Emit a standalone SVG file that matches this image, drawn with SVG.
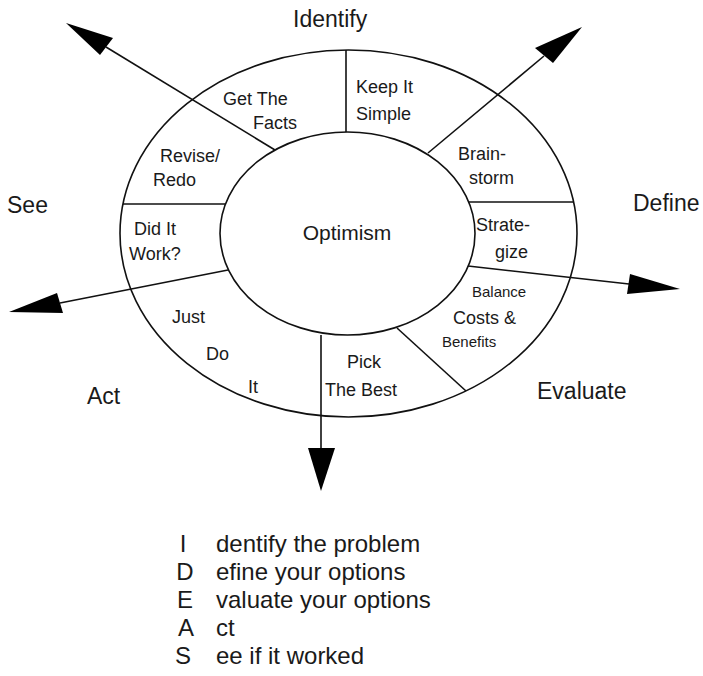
<svg xmlns="http://www.w3.org/2000/svg" width="703" height="676" viewBox="0 0 703 676">
  <style>
    text { font-family: "Liberation Sans", Arial, sans-serif; fill: #1a1a1a; }
    .ring { fill: none; stroke: #111; stroke-width: 1.6; }
    .hub { fill: #fff; stroke: #111; stroke-width: 1.6; }
    .conn { stroke: #111; stroke-width: 1.6; fill: none; }
    .head { fill: #000; stroke: none; }
    .phase { font-size: 23px; }
    .seg { font-size: 18px; }
    .seg-sm { font-size: 15px; }
    .core { font-size: 21px; }
    .legend { font-size: 24px; }
  </style>
  <rect width="703" height="676" fill="#fff"/>

  <!-- outer ring of the wheel -->
  <g id="wheel">
    <ellipse class="ring" cx="348.5" cy="233.5" rx="228.5" ry="183.5"/>
  </g>

  <!-- centre hub -->
  <g id="optimism">
    <ellipse class="hub" cx="347.5" cy="233.5" rx="127.5" ry="101.5"/>
    <text class="core" x="347" y="240" text-anchor="middle">Optimism</text>
  </g>

  <!-- dividers and outward arrows -->
  <g id="connectors">
    <line class="conn" x1="346" y1="50" x2="346" y2="132"/>
    <line class="conn" x1="468" y1="202" x2="573" y2="202"/>
    <line class="conn" x1="123" y1="204" x2="225" y2="204"/>
    <line class="conn" x1="397" y1="328" x2="466" y2="391"/>

    <line class="conn" x1="275" y1="150" x2="106" y2="47"/>
    <polygon class="head" points="66,23 113,38 100,55"/>

    <line class="conn" x1="428" y1="153" x2="544" y2="56"/>
    <polygon class="head" points="582,27 535,48 553,63"/>

    <line class="conn" x1="468" y1="266" x2="629" y2="284"/>
    <polygon class="head" points="680,289 630,274 627,294"/>

    <line class="conn" x1="321" y1="335" x2="321" y2="448"/>
    <polygon class="head" points="308,448 335,448 321,491"/>

    <line class="conn" x1="228" y1="270" x2="60" y2="303"/>
    <polygon class="head" points="9,312 57,293 63,313"/>
  </g>

  <!-- wheel segments -->
  <g id="seg-keep-it-simple">
    <text class="seg" x="356" y="93">Keep It</text>
    <text class="seg" x="356" y="120">Simple</text>
  </g>
  <g id="seg-brainstorm">
    <text class="seg" x="458" y="160">Brain-</text>
    <text class="seg" x="469" y="184">storm</text>
  </g>
  <g id="seg-strategize">
    <text class="seg" x="476" y="231">Strate-</text>
    <text class="seg" x="495" y="258">gize</text>
  </g>
  <g id="seg-balance">
    <text class="seg-sm" x="472" y="297">Balance</text>
    <text class="seg" x="453" y="324">Costs &amp;</text>
    <text class="seg-sm" x="442" y="347">Benefits</text>
  </g>
  <g id="seg-pick-the-best">
    <text class="seg" x="347" y="368">Pick</text>
    <text class="seg" x="325" y="396">The Best</text>
  </g>
  <g id="seg-just-do-it">
    <text class="seg" x="172" y="323">Just</text>
    <text class="seg" x="206" y="360">Do</text>
    <text class="seg" x="248" y="393">It</text>
  </g>
  <g id="seg-did-it-work">
    <text class="seg" x="134" y="235">Did It</text>
    <text class="seg" x="129" y="260">Work?</text>
  </g>
  <g id="seg-revise-redo">
    <text class="seg" x="160" y="162">Revise/</text>
    <text class="seg" x="153" y="186">Redo</text>
  </g>
  <g id="seg-get-the-facts">
    <text class="seg" x="223" y="105">Get The</text>
    <text class="seg" x="253" y="129">Facts</text>
  </g>

  <!-- phase names around the wheel -->
  <g id="phase-identify"><text class="phase" x="293" y="27">Identify</text></g>
  <g id="phase-define"><text class="phase" x="633" y="211">Define</text></g>
  <g id="phase-evaluate"><text class="phase" x="537" y="399">Evaluate</text></g>
  <g id="phase-act"><text class="phase" x="87" y="404">Act</text></g>
  <g id="phase-see"><text class="phase" x="7" y="213">See</text></g>

  <!-- acronym key -->
  <g id="legend">
    <text class="legend" x="183" y="552" text-anchor="middle">I</text>
    <text class="legend" x="216" y="552">dentify the problem</text>
    <text class="legend" x="185" y="580" text-anchor="middle">D</text>
    <text class="legend" x="216" y="580">efine your options</text>
    <text class="legend" x="185" y="608" text-anchor="middle">E</text>
    <text class="legend" x="216" y="608">valuate your options</text>
    <text class="legend" x="186" y="636" text-anchor="middle">A</text>
    <text class="legend" x="216" y="636">ct</text>
    <text class="legend" x="183" y="664" text-anchor="middle">S</text>
    <text class="legend" x="216" y="664">ee if it worked</text>
  </g>
</svg>
